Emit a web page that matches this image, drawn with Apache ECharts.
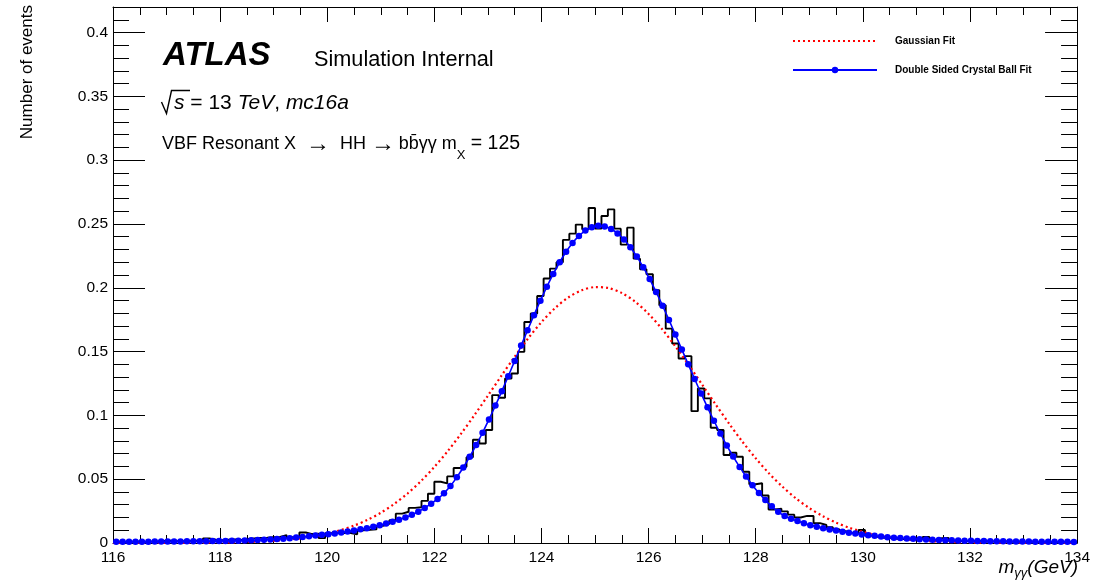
<!DOCTYPE html>
<html>
<head>
<meta charset="utf-8">
<script src="https://cdn.jsdelivr.net/npm/echarts@6/dist/echarts.min.js"></script>
<style>
html,body{margin:0;padding:0;background:#fff;}
#chart{width:1093px;height:580px;}
</style>
</head>
<body>
<div id="chart"></div>
<script>
// ---------------- data ----------------
// histogram: 150 bins of 0.12 GeV from 116 to 134
const binStart = 116;
const binWidth = 0.12;
const histValues = [
  0.0010,0.0008,0.0010,0.0012,0.0009,0.0011,0.0013,0.0016,0.0018,0.0015,
  0.0014,0.0016,0.0018,0.0017,0.0036,0.0026,0.0022,0.0025,0.0028,0.0024,
  0.0032,0.0036,0.0040,0.0042,0.0045,0.0048,0.0062,0.0045,0.0046,0.0082,
  0.0070,0.0072,0.0038,0.0076,0.0077,0.0080,0.0078,0.0068,0.0100,0.0104,
  0.0108,0.0135,0.0150,0.0178,0.0230,0.0245,0.0275,0.0280,0.0330,0.0386,
  0.0480,0.0467,0.0522,0.0588,0.0597,0.0672,0.0809,0.0780,0.0885,0.1159,
  0.1138,0.1289,0.1328,0.1498,0.1732,0.1798,0.1936,0.2072,0.2150,0.2200,
  0.2375,0.2424,0.2495,0.2458,0.2625,0.2463,0.2562,0.2614,0.2463,0.2338,
  0.2471,0.2228,0.2145,0.2106,0.1980,0.1863,0.1680,0.1563,0.1446,0.1464,
  0.1033,0.1211,0.1133,0.0903,0.0885,0.0689,0.0707,0.0676,0.0558,0.0460,
  0.0468,0.0372,0.0262,0.0268,0.0248,0.0222,0.0200,0.0212,0.0212,0.0156,
  0.0141,0.0124,0.0108,0.0092,0.0078,0.0076,0.0102,0.0058,0.0048,0.0040,
  0.0038,0.0033,0.0030,0.0029,0.0028,0.0030,0.0048,0.0024,0.0038,0.0040,
  0.0018,0.0016,0.0015,0.0014,0.0016,0.0012,0.0013,0.0011,0.0012,0.0010,
  0.0011,0.0009,0.0010,0.0008,0.0009,0.0008,0.0007,0.0008,0.0006,0.0007
];
// Double Sided Crystal Ball fit, read at the bin centres
const dscbValues = [
  0.0009,0.0009,0.0009,0.0010,0.0010,0.0010,0.0011,0.0011,0.0011,0.0012,
  0.0012,0.0013,0.0013,0.0014,0.0014,0.0015,0.0015,0.0016,0.0017,0.0018,
  0.0019,0.0021,0.0023,0.0025,0.0028,0.0031,0.0034,0.0038,0.0043,0.0047,
  0.0052,0.0058,0.0064,0.0069,0.0075,0.0082,0.0090,0.0098,0.0107,0.0116,
  0.0127,0.0139,0.0152,0.0166,0.0182,0.0200,0.0221,0.0245,0.0275,0.0308,
  0.0345,0.0390,0.0446,0.0516,0.0592,0.0676,0.0767,0.0864,0.0968,0.1077,
  0.1190,0.1307,0.1427,0.1547,0.1667,0.1785,0.1899,0.2007,0.2108,0.2200,
  0.2282,0.2351,0.2406,0.2448,0.2474,0.2485,0.2480,0.2460,0.2426,0.2378,
  0.2317,0.2244,0.2161,0.2068,0.1967,0.1860,0.1748,0.1633,0.1517,0.1400,
  0.1285,0.1172,0.1063,0.0958,0.0858,0.0764,0.0677,0.0596,0.0521,0.0453,
  0.0391,0.0336,0.0287,0.0244,0.0212,0.0190,0.0172,0.0155,0.0140,0.0127,
  0.0116,0.0106,0.0097,0.0089,0.0081,0.0074,0.0067,0.0061,0.0056,0.0051,
  0.0046,0.0042,0.0039,0.0036,0.0033,0.0030,0.0028,0.0026,0.0024,0.0022,
  0.0021,0.0019,0.0018,0.0017,0.0016,0.0015,0.0014,0.0014,0.0013,0.0012,
  0.0012,0.0011,0.0011,0.0010,0.0010,0.0010,0.0009,0.0009,0.0009,0.0008
];
// Gaussian fit, read every 0.25 GeV from 116 to 134
const gausStart = 116;
const gausStep = 0.25;
const gausValues = [
  0.0000,0.0000,0.0000,0.0000,0.0000,0.0001,0.0001,0.0002,0.0003,0.0005,
  0.0008,0.0012,0.0017,0.0026,0.0037,0.0052,0.0073,0.0101,0.0136,0.0181,
  0.0237,0.0306,0.0388,0.0485,0.0596,0.0720,0.0857,0.1003,0.1155,0.1309,
  0.1460,0.1603,0.1731,0.1840,0.1924,0.1980,0.2005,0.1998,0.1959,0.1890,
  0.1795,0.1677,0.1541,0.1395,0.1241,0.1087,0.0937,0.0795,0.0664,0.0545,
  0.0441,0.0350,0.0274,0.0211,0.0160,0.0119,0.0088,0.0063,0.0045,0.0031,
  0.0022,0.0015,0.0010,0.0006,0.0004,0.0003,0.0002,0.0001,0.0001,0.0000,
  0.0000,0.0000,0.0000
];
const xMin = 116, xMax = 134, xMajor = 2, xMinor = 0.5;
const yMin = 0, yMax = 0.42, yMajor = 0.05, yMinor = 0.01;
const legendNames = ['Gaussian Fit', 'Double Sided Crystal Ball Fit'];

// ---------------- build ----------------
const r3 = v => Math.round(v * 1000) / 1000;
const histData = histValues.map((v, i) => [r3(binStart + i * binWidth), v]);
histData.push([r3(binStart + histValues.length * binWidth), histValues[histValues.length - 1]]);
const dscbData = dscbValues.map((v, i) => [r3(binStart + (i + 0.5) * binWidth), v]);
const gausData = gausValues.map((v, i) => [r3(gausStart + i * gausStep), v]);

const FONT = '"Liberation Sans", Arial, Helvetica, sans-serif';
const BLACK = '#000';

function xAxisDef(pos, interval, len, main) {
  return {
    type: 'value', position: pos, min: xMin, max: xMax, interval: interval,
    axisLine: { show: main, onZero: false, lineStyle: { color: BLACK, width: 1 } },
    axisTick: { show: true, inside: true, length: len, lineStyle: { color: BLACK, width: 1 } },
    axisLabel: { show: main && pos === 'bottom', color: BLACK, fontSize: 15.5, fontFamily: FONT, margin: 7 },
    splitLine: { show: false }
  };
}
function yAxisDef(pos, interval, len, main) {
  return {
    type: 'value', position: pos, min: yMin, max: yMax, interval: interval,
    axisLine: { show: main, onZero: false, lineStyle: { color: BLACK, width: 1 } },
    axisTick: { show: true, inside: true, length: len, lineStyle: { color: BLACK, width: 1 } },
    axisLabel: { show: main && pos === 'left', showMaxLabel: false, color: BLACK, fontSize: 15.5, fontFamily: FONT, margin: 5 },
    splitLine: { show: false }
  };
}

const chart = echarts.init(document.getElementById('chart'), null, { renderer: 'canvas' });
chart.setOption({
  backgroundColor: '#fff',
  animation: false,
  grid: { left: 113, right: 15, top: 7, bottom: 37, containLabel: false },
  xAxis: [
    xAxisDef('bottom', xMajor, 15, true),
    xAxisDef('bottom', xMinor, 8, false),
    xAxisDef('top', xMajor, 15, true),
    xAxisDef('top', xMinor, 8, false)
  ],
  yAxis: [
    yAxisDef('left', yMajor, 32, true),
    yAxisDef('left', yMinor, 16, false),
    yAxisDef('right', yMajor, 32, true),
    yAxisDef('right', yMinor, 16, false)
  ],
  legend: {
    data: [
      { name: legendNames[0], itemStyle: { opacity: 0 } },
      { name: legendNames[1] }
    ],
    orient: 'vertical',
    left: 792, top: 36, padding: 0,
    itemWidth: 84, itemHeight: 8, itemGap: 19,
    selectedMode: false,
    textStyle: { fontFamily: FONT, fontWeight: 'bold', fontSize: 10, color: BLACK, lineHeight: 10, padding: [0, 0, 0, 13] }
  },
  series: [
    {
      name: 'hist', type: 'line', step: 'end', data: histData,
      symbol: 'none', lineStyle: { color: BLACK, width: 1.9 }, itemStyle: { color: BLACK },
      z: 2, silent: true
    },
    {
      name: legendNames[0], type: 'line', data: gausData, smooth: 0.3,
      symbol: 'none', lineStyle: { color: '#ff0000', width: 2.2, type: [2, 3] }, itemStyle: { color: '#ff0000' },
      z: 3, silent: true
    },
    {
      name: legendNames[1], type: 'line', data: dscbData, smooth: 0.3,
      symbol: 'circle', symbolSize: 6.5, showAllSymbol: true,
      lineStyle: { color: '#0000ff', width: 1.6 }, itemStyle: { color: '#0000ff' },
      z: 4, silent: true
    }
  ],
  graphic: [
    { type: 'text', x: 163, y: 56, style: { text: 'ATLAS', font: 'italic bold 33px ' + FONT, fill: BLACK, verticalAlign: 'middle' } },
    { type: 'text', x: 314, y: 60, style: { text: 'Simulation Internal', font: '21.7px ' + FONT, fill: BLACK, verticalAlign: 'middle' } },
    { type: 'polyline', shape: { points: [[161.5, 102], [166.5, 113.5], [171.5, 90.5], [190, 90.5]] }, style: { stroke: BLACK, lineWidth: 1.4, fill: null } },
    { type: 'text', x: 174, y: 103, style: {
        text: '{i|s}{n| = 13 }{i|TeV}{n|, }{i|mc16a}', verticalAlign: 'middle', fill: BLACK,
        rich: { i: { fontStyle: 'italic', fontSize: 21, fontFamily: FONT, fill: BLACK }, n: { fontSize: 21, fontFamily: FONT, fill: BLACK } }
    } },
    { type: 'text', x: 162, y: 144, style: {
        text: '{n|VBF Resonant X  }{a|\u2192}{n|  HH }{a|\u2192}{n|\u2009bb\u0304\u03b3\u03b3 m}{s|X}{e| = 125}', verticalAlign: 'middle', fill: BLACK,
        rich: {
          n: { fontSize: 18, fontFamily: FONT, lineHeight: 36, fill: BLACK },
          e: { fontSize: 19.5, fontFamily: FONT, lineHeight: 36, fill: BLACK },
          a: { fontSize: 24, fontFamily: FONT, lineHeight: 34, fill: BLACK },
          s: { fontSize: 13, fontFamily: FONT, lineHeight: 10, verticalAlign: 'bottom', fill: BLACK }
        }
    } },
    { type: 'text', x: 27, y: 5, rotation: Math.PI / 2, style: { text: 'Number of events', font: '17px ' + FONT, fill: BLACK, align: 'right', verticalAlign: 'middle' } },
    { type: 'text', x: 1078, y: 568, style: {
        text: '{n|m}{s|\u03b3\u03b3}{n|(GeV)}', align: 'right', verticalAlign: 'middle', fill: BLACK,
        rich: { n: { fontStyle: 'italic', fontSize: 19, fontFamily: FONT, lineHeight: 24, fill: BLACK }, s: { fontStyle: 'italic', fontSize: 13, fontFamily: FONT, lineHeight: 12, verticalAlign: 'bottom', fill: BLACK } }
    } }
  ]
});
</script>
</body>
</html>
